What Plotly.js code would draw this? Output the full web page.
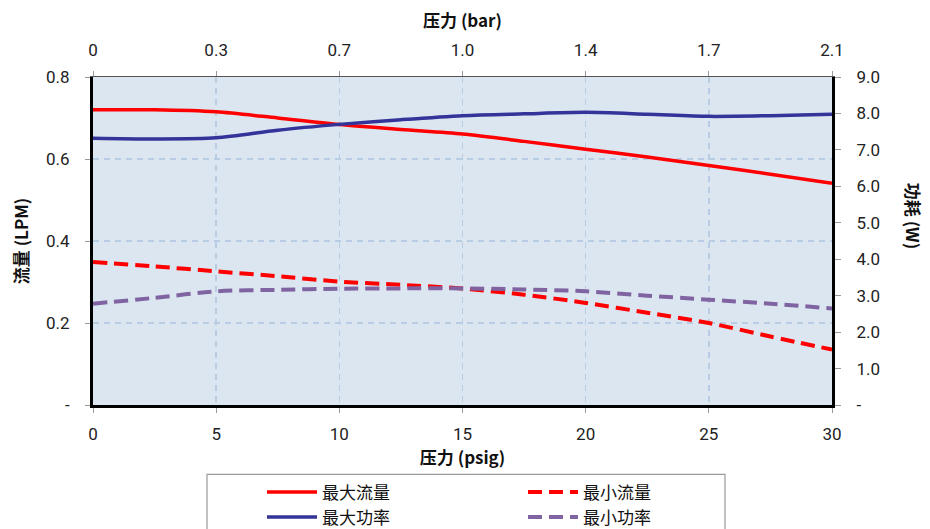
<!DOCTYPE html>
<html>
<head>
<meta charset="utf-8">
<script src="https://cdn.plot.ly/plotly-3.0.1.min.js"></script>
<style>html,body{margin:0;padding:0;background:#fff;}#chart{width:930px;height:529px;}</style>
</head>
<body>
<div id="chart"></div>
<script>
// ---- data ----
const psig = [0, 2.5, 5, 7.5, 10, 12.5, 15, 17.5, 20, 22.5, 25, 27.5, 30];
const maxFlow = [0.720, 0.720, 0.715, 0.700, 0.684, 0.672, 0.661, 0.643, 0.624, 0.605, 0.584, 0.563, 0.541];
const minFlow = [0.349, 0.338, 0.326, 0.314, 0.301, 0.293, 0.284, 0.269, 0.249, 0.225, 0.200, 0.167, 0.135];
const maxPower = [7.32, 7.30, 7.33, 7.54, 7.70, 7.83, 7.94, 7.99, 8.03, 7.98, 7.92, 7.94, 7.98];
const minPower = [2.78, 2.94, 3.12, 3.16, 3.19, 3.20, 3.20, 3.17, 3.12, 3.00, 2.89, 2.78, 2.65];
const seriesNames = ['最大流量', '最小流量', '最大功率', '最小功率'];
const psigTicks = [0, 5, 10, 15, 20, 25, 30];
const barTickLabels = ['0', '0.3', '0.7', '1.0', '1.4', '1.7', '2.1'];
const flowTicks = [0, 0.2, 0.4, 0.6, 0.8];
const flowTickLabels = ['-', '0.2', '0.4', '0.6', '0.8'];
const powerTicks = [0, 1, 2, 3, 4, 5, 6, 7, 8, 9];
const powerTickLabels = ['-', '1.0', '2.0', '3.0', '4.0', '5.0', '6.0', '7.0', '8.0', '9.0'];

const numFont = 'Roboto, "DejaVu Sans", sans-serif';
const cjkFont = '"Noto Sans CJK SC", "Noto Sans", sans-serif';
const tickFont = {family: numFont, size: 17, color: '#222'};

const traces = [
  {x: psig, y: maxFlow, name: seriesNames[0], type: 'scatter', mode: 'lines',
   line: {color: '#ff0000', width: 3.5, shape: 'spline', smoothing: 0.8}, xaxis: 'x', yaxis: 'y'},
  {x: psig, y: minFlow, name: seriesNames[1], type: 'scatter', mode: 'lines',
   line: {color: '#ff0000', width: 4, dash: '14px,7px', shape: 'spline', smoothing: 0.8}, xaxis: 'x', yaxis: 'y'},
  {x: psig, y: maxPower, name: seriesNames[2], type: 'scatter', mode: 'lines',
   line: {color: '#333399', width: 3.5, shape: 'spline', smoothing: 0.8}, xaxis: 'x', yaxis: 'y2'},
  {x: psig, y: minPower, name: seriesNames[3], type: 'scatter', mode: 'lines',
   line: {color: '#8064a2', width: 4, dash: '14px,7px', shape: 'spline', smoothing: 0.8}, xaxis: 'x', yaxis: 'y2'},
  // invisible carrier trace for the top (bar) axis
  {x: psig, y: maxFlow, type: 'scatter', mode: 'lines', showlegend: false, hoverinfo: 'skip',
   line: {color: 'rgba(0,0,0,0)', width: 0}, xaxis: 'x2', yaxis: 'y'}
];

const L = 93, R = 832, T = 77, B = 405.5;
const W = 930, H = 529;
const pw = R - L, ph = B - T;
function px2x(p) { return (p - L) / pw; }
function px2y(p) { return (B - p) / ph; }

const layout = {
  width: W, height: H,
  paper_bgcolor: '#ffffff',
  plot_bgcolor: '#dce6f1',
  margin: {l: L, r: W - R, t: T, b: H - B, autoexpand: false},
  showlegend: true,
  font: {family: numFont, size: 16, color: '#222'},
  xaxis: {
    range: [0, 30], tickvals: psigTicks, ticktext: psigTicks.map(String),
    ticks: 'outside', ticklen: 5, tickcolor: '#999', tickwidth: 1,
    showline: true, linecolor: '#000', linewidth: 3,
    showgrid: true, gridcolor: '#b8cce4', gridwidth: 1.5, griddash: '6px,5px',
    zeroline: false, ticklabelstandoff: 7,
    tickfont: tickFont,
    title: {text: '压力 (psig)', font: {family: cjkFont, size: 17, color: '#111', weight: 'bold'}, standoff: 5}
  },
  xaxis2: {
    overlaying: 'x', side: 'top', anchor: 'y', matches: 'x',
    range: [0, 30], tickvals: psigTicks, ticktext: barTickLabels,
    ticks: 'outside', ticklen: 5, tickcolor: '#999', tickwidth: 1,
    showline: true, linecolor: '#555', linewidth: 1.5,
    showgrid: false, zeroline: false, ticklabelstandoff: 8,
    tickfont: tickFont,
    title: {text: '压力 (bar)', font: {family: cjkFont, size: 17, color: '#111', weight: 'bold'}, standoff: 8}
  },
  yaxis: {
    range: [0, 0.8], tickvals: flowTicks, ticktext: flowTickLabels,
    ticks: 'outside', ticklen: 5, tickcolor: '#999', tickwidth: 1,
    showline: true, linecolor: '#000', linewidth: 3,
    showgrid: true, gridcolor: '#b8cce4', gridwidth: 1.5, griddash: '6px,5px',
    zeroline: false, ticklabelstandoff: 12,
    tickfont: tickFont,
    title: {text: '流量 (LPM)', font: {family: cjkFont, size: 17, color: '#111', weight: 'bold'}, standoff: 14}
  },
  yaxis2: {
    overlaying: 'y', side: 'right', anchor: 'x',
    range: [0, 9], tickvals: powerTicks, ticktext: powerTickLabels,
    ticks: 'outside', ticklen: 6, tickcolor: '#999', tickwidth: 1,
    showline: true, linecolor: '#000', linewidth: 3,
    showgrid: false, zeroline: false, ticklabelstandoff: 12,
    tickfont: tickFont
  },
  legend: {
    orientation: 'h', x: px2x(262), xanchor: 'left', xref: 'paper',
    y: px2y(475), yanchor: 'top', yref: 'paper',
    entrywidth: 196, entrywidthmode: 'pixels', itemwidth: 50,
    bgcolor: 'rgba(0,0,0,0)', borderwidth: 0, tracegroupgap: 0,
    font: {family: cjkFont, size: 17, color: '#111'}
  },
  shapes: [
    {type: 'rect', xref: 'paper', yref: 'paper',
     x0: px2x(207), x1: px2x(725), y0: px2y(475), y1: px2y(560),
     line: {color: '#999', width: 1.2}, fillcolor: 'rgba(0,0,0,0)', layer: 'below'}
  ],
  annotations: [
    {text: '功耗 (W)', xref: 'paper', yref: 'paper', x: px2x(913), y: px2y(216),
     xanchor: 'center', yanchor: 'middle', showarrow: false, textangle: 90,
     font: {family: cjkFont, size: 17, color: '#111', weight: 'bold'}}
  ]
};

Plotly.newPlot('chart', traces, layout, {displayModeBar: false, staticPlot: true});
</script>
</body>
</html>
